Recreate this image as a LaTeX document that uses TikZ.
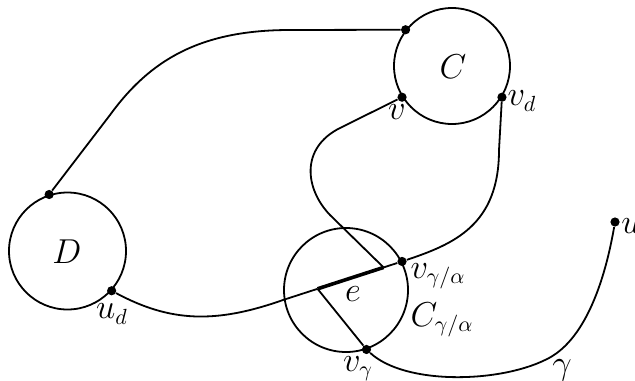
\documentclass[tikz,border=0pt]{standalone}
\usetikzlibrary{calc}
\begin{document}
\begin{tikzpicture}[x=0.5pt,y=-0.5pt,
  every node/.style={font=\fontsize{16}{19}\selectfont},
  ring/.style={draw,circle,line width=0.9pt,inner sep=0pt},
  dot/.style={circle,fill=black,inner sep=0pt,minimum size=4.6pt},
  edgeline/.style={line width=0.9pt},
  thicke/.style={line width=1.8pt},
  lbl/.style={inner sep=0pt}]
\useasboundingbox (0,0) rectangle (635,380);
% circles
\node[ring,minimum size=58pt] (C) at (452,66) {};
\node[ring,minimum size=58.5pt] (D) at (67.5,251) {};
\node[ring,minimum size=62pt] (Cga) at (346,290) {};
% dots
\node[dot] (c1) at (C.142) {};
\node[dot] (v) at (C.212) {};
\node[dot] (vd) at (C.-32) {};
\node[dot] (d1) at (D.108) {};
\node[dot] (ud) at (D.-42) {};
\node[dot] (vga) at (Cga.27) {};
\node[dot] (vg) at (Cga.-71) {};
\node[dot] (u) at (615,222) {};
% helper coordinates
\coordinate (pL) at (283,300);
\coordinate (e1) at ($(pL)!0.29!(vga)$);
\coordinate (e2) at ($(pL)!0.845!(vga)$);
\coordinate (t1) at (290,30);
\coordinate (t2) at (110,115);
\coordinate (a1) at (340,128);
\coordinate (a2) at (330,215);
\coordinate (b1) at (499,150);
\coordinate (g1) at (545,360);
% connectors
\draw[edgeline] (c1) -- (t1) .. controls (200,30) and (150,60) .. (t2) -- (d1);
\draw[edgeline] (v) -- (a1) .. controls (300,148) and (305,189) .. (a2) -- (e2);
\draw[edgeline] (vd) -- (b1) .. controls (499,225) and (454,244) .. (vga);
\draw[edgeline] (ud) .. controls (170,322) and (215,324) .. (pL) -- (e1);
\draw[thicke] (e1) -- (e2);
\draw[edgeline] (e2) -- (vga);
\draw[edgeline] (e1) -- (vg);
\draw[edgeline] (vg) .. controls (405,385) and (498,383) .. (g1) .. controls (585,342) and (605,280) .. (u);
% labels
\node[lbl] (lC) at (453,67) {$C$};
\node[lbl] (lD) at (67,252) {$D$};
\node[lbl] (lv) at (397,112) {$v$};
\node[lbl] (lvd) at (522,101) {$v_d$};
\node[lbl] (lud) at (112,314) {$u_d$};
\node[lbl] (le) at (353,294) {$e$};
\node[lbl] (lvga) at (438,276) {$v_{\gamma/\alpha}$};
\node[lbl] (lCga) at (442,320) {$C_{\gamma/\alpha}$};
\node[lbl] (lvg) at (358,369) {$v_\gamma$};
\node[lbl] (lg) at (562,370) {$\gamma$};
\node[lbl,anchor=west] (lu) at (621,226) {$u$};
\end{tikzpicture}
\end{document}
